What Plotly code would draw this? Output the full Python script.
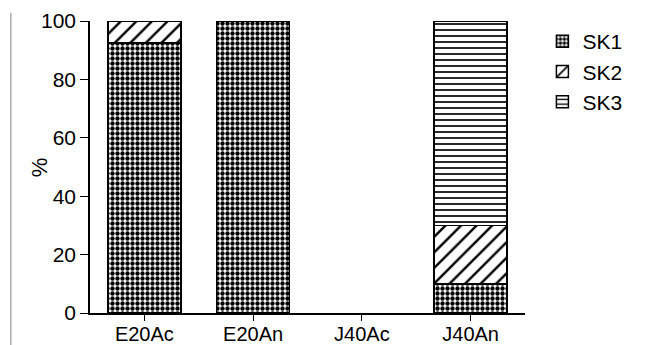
import plotly.graph_objects as go

# Sample groups and the share (%) of each SK type within them
categories = ["E20Ac", "E20An", "J40Ac", "J40An"]
sk1 = [92.5, 100, 0, 10]
sk2 = [7.5, 0, 0, 20]
sk3 = [0, 0, 0, 70]
series_names = ["SK1", "SK2", "SK3"]
tick_values = [0, 20, 40, 60, 80, 100]

FONT = "Liberation Sans, Arial, Helvetica, sans-serif"

patterns = [
    dict(shape=".", size=5, solidity=0.6, fgcolor="black", bgcolor="white", fillmode="replace"),
    dict(shape="/", size=11, solidity=0.22, fgcolor="black", bgcolor="white", fillmode="replace"),
    dict(shape="-", size=6, solidity=0.28, fgcolor="black", bgcolor="white", fillmode="replace"),
]

fig = go.Figure()
for i, (name, vals) in enumerate(zip(series_names, [sk1, sk2, sk3])):
    # empty segments are left undrawn so they get no outline
    shown = [v if v > 0 else None for v in vals]
    fig.add_trace(go.Bar(
        x=categories, y=shown, name=name, width=0.67,
        legendgroup=name,
        marker=dict(color="white", pattern=patterns[i],
                    line=dict(color="black", width=1.5)),
    ))

fig.update_layout(
    barmode="stack",
    width=646, height=345,
    margin=dict(l=90, r=121, t=21, b=32, autoexpand=False),
    paper_bgcolor="white", plot_bgcolor="white",
    font=dict(family=FONT, size=21, color="black"),
    showlegend=True,
    legend=dict(x=1.04, y=1.0, xanchor="left", yanchor="top",
                traceorder="grouped", tracegroupgap=0,
                font=dict(family=FONT, size=21, color="black"),
                bgcolor="rgba(0,0,0,0)"),
    annotations=[dict(text="%", x=-0.15, y=0.5, xref="paper", yref="paper",
                      textangle=-90, showarrow=False,
                      font=dict(family=FONT, size=22, color="black"))],
    shapes=[dict(type="line", xref="paper", yref="paper",
                 x0=-0.182, x1=-0.182, y0=1.027, y1=-0.12,
                 line=dict(color="#aaaaaa", width=1.5))],
)

fig.update_xaxes(
    range=[-0.5, 3.5], showline=True, linecolor="black", linewidth=1.5,
    ticks="outside", ticklen=6, tickwidth=1.2, tickcolor="black",
    showgrid=False, zeroline=False, ticklabelstandoff=-4,
    tickfont=dict(family=FONT, size=20, color="black"),
)
fig.update_yaxes(
    range=[0, 100], tickvals=tick_values, showline=True, linecolor="black",
    linewidth=1.5, ticks="outside", ticklen=8, tickwidth=1.2, tickcolor="black",
    showgrid=False, zeroline=False,
    tickfont=dict(family=FONT, size=21, color="black"),
)

fig.write_html("out.html")
